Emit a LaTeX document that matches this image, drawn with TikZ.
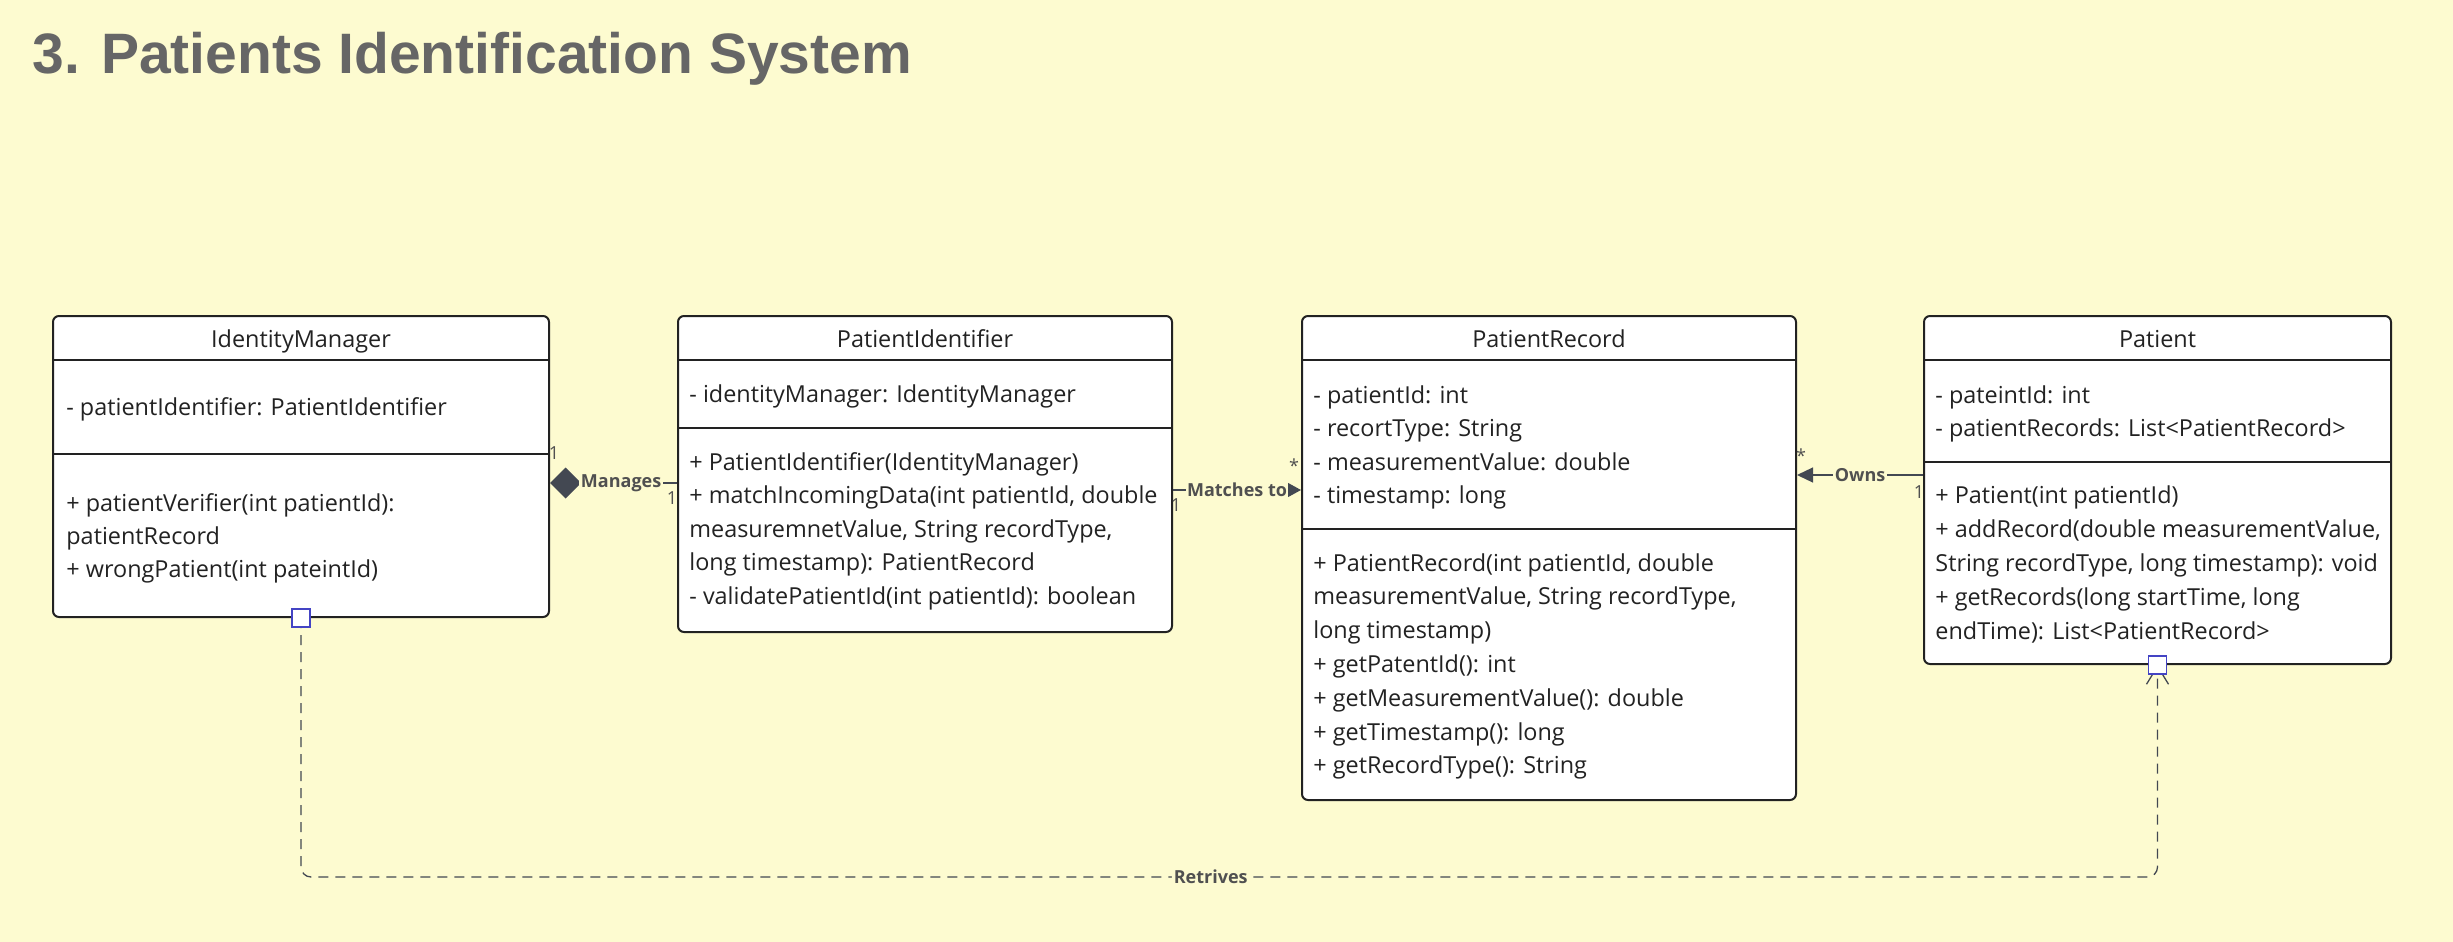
\documentclass[tikz,border=0pt]{standalone}
\usepackage{fontspec}
\setmainfont{Open Sans}
\newfontfamily\titlefont{Liberation Sans}
\usetikzlibrary{arrows.meta,calc}
\definecolor{bgyellow}{HTML}{FDFBD0}
\definecolor{linegray}{HTML}{434852}
\definecolor{labelgray}{HTML}{505050}
\definecolor{titlegray}{HTML}{666666}
\definecolor{handleblue}{HTML}{4444C4}
\definecolor{inkgray}{HTML}{222222}

\tikzset{
  classbox/.style={draw=inkgray, fill=white, line width=1pt, rounded corners=3pt, anchor=north west, inner sep=0pt},
  divider/.style={draw=inkgray, line width=1pt},
  header/.style={anchor=base, inner sep=0pt, font=\fontsize{11.7}{14}\selectfont, text=inkgray},
  member/.style={anchor=base west, inner sep=0pt, font=\fontsize{11.7}{14}\selectfont, text=inkgray},
  assoc/.style={draw=linegray, line width=0.65pt},
  dep/.style={draw=linegray, line width=0.65pt, dash pattern=on 5pt off 3.5pt, rounded corners=5pt},
  lbl/.style={fill=bgyellow, inner sep=1pt, font=\bfseries\fontsize{9}{10}\selectfont, text=labelgray},
  mult/.style={inner sep=0pt, font=\fontsize{9}{10}\selectfont, text=labelgray},
  handle/.style={draw=handleblue, fill=white, line width=0.8pt, minimum size=9pt, inner sep=0pt},
}

\begin{document}
\begin{tikzpicture}[x=0.5pt, y=-0.5pt]
    \fill[bgyellow] (0,0) rectangle (2453,942);
    \useasboundingbox (0,0) rectangle (2453,942);

    \node[anchor=base west, inner sep=0pt, text=titlegray, font=\titlefont\bfseries\fontsize{28.5}{30}\selectfont] (title) at (32,73) {3. Patients Identification System};

    % IdentityManager
    \node[classbox, minimum width=248pt, minimum height=150.5pt] (idm) at (52,315) {};
    \draw[divider] (idm.west |- 0,360) -- (idm.east |- 0,360);
    \draw[divider] (idm.west |- 0,454) -- (idm.east |- 0,454);
    \node[header] (idm-name) at (idm.north |- 0,347) {IdentityManager};
    \node[member] (idm-a1) at (66,415) {- patientIdentifier: PatientIdentifier};
    \foreach \t [count=\i] in {{+ patientVerifier(int patientId):}, patientRecord, {+ wrongPatient(int pateintId)}}
        \node[member] (idm-m\i) at (66,{511+33.4*(\i-1)}) {\t};

    % PatientIdentifier
    \node[classbox, minimum width=247pt, minimum height=158pt] (pid) at (677,315) {};
    \draw[divider] (pid.west |- 0,360) -- (pid.east |- 0,360);
    \draw[divider] (pid.west |- 0,428) -- (pid.east |- 0,428);
    \node[header] (pid-name) at (pid.north |- 0,347) {PatientIdentifier};
    \node[member] (pid-a1) at (689,402) {- identityManager: IdentityManager};
    \foreach \t [count=\i] in {{+ PatientIdentifier(IdentityManager)}, {+ matchIncomingData(int patientId, double}, {measuremnetValue, String recordType,}, {long timestamp): PatientRecord}, {- validatePatientId(int patientId): boolean}}
        \node[member] (pid-m\i) at (689,{470+33.5*(\i-1)}) {\t};

    % PatientRecord
    \node[classbox, minimum width=247pt, minimum height=242pt] (prec) at (1301,315) {};
    \draw[divider] (prec.west |- 0,360) -- (prec.east |- 0,360);
    \draw[divider] (prec.west |- 0,529) -- (prec.east |- 0,529);
    \node[header] (prec-name) at (prec.north |- 0,347) {PatientRecord};
    \foreach \t [count=\i] in {{- patientId: int}, {- recortType: String}, {- measurementValue: double}, {- timestamp: long}}
        \node[member] (prec-a\i) at (1313,{403+33.6*(\i-1)}) {\t};
    \foreach \t [count=\i] in {{+ PatientRecord(int patientId, double}, {measurementValue, String recordType,}, {long timestamp)}, {+ getPatentId(): int}, {+ getMeasurementValue(): double}, {+ getTimestamp(): long}, {+ getRecordType(): String}}
        \node[member] (prec-m\i) at (1313,{571+33.8*(\i-1)}) {\t};

    % Patient
    \node[classbox, minimum width=233.5pt, minimum height=174pt] (pat) at (1923,315) {};
    \draw[divider] (pat.west |- 0,360) -- (pat.east |- 0,360);
    \draw[divider] (pat.west |- 0,462) -- (pat.east |- 0,462);
    \node[header] (pat-name) at (pat.north |- 0,347) {Patient};
    \foreach \t [count=\i] in {{- pateintId: int}, {- patientRecords: List<PatientRecord>}}
        \node[member] (pat-a\i) at (1935,{403+33.5*(\i-1)}) {\t};
    \foreach \t [count=\i] in {{+ Patient(int patientId)}, {+ addRecord(double measurementValue,}, {String recordType, long timestamp): void}, {+ getRecords(long startTime, long}, {endTime): List<PatientRecord>}}
        \node[member] (pat-m\i) at (1935,{503+34*(\i-1)}) {\t};

    % connectors
    \draw[assoc, {Diamond[length=15.5pt, width=15.5pt, fill=linegray]}-] (idm.east |- 0,483) -- node[lbl, pos=0.56] (lbl-manages) {Manages} (pid.west |- 0,483);
    \node[mult] (m-idm) at (554,453) {1};
    \node[mult] (m-pid) at (672,498) {1};

    \draw[assoc, -{Triangle[length=7pt, width=7.5pt]}] (pid.east |- 0,490) -- node[lbl, inner sep=0.5pt] (lbl-matches) {Matches to} (prec.west |- 0,490);
    \node[mult] (m-pid2) at (1176,505) {1};
    \node[mult] (m-prec) at (1294,466) {*};

    \draw[assoc, -{Triangle[length=8pt, width=7.5pt]}] (pat.west |- 0,475) -- node[lbl] (lbl-owns) {Owns} (prec.east |- 0,475);
    \node[mult] (m-prec2) at (1801,456) {*};
    \node[mult] (m-pat) at (1919,492) {1};

    \draw[dep, -{Straight Barb[length=9pt, width=11pt]}] (idm.south) -- (idm.south |- 0,877) -- node[lbl, pos=0.49] (lbl-retrives) {Retrives} (pat.south |- 0,877) -- (pat.south);
    \node[handle] (idm-handle) at (idm.south) {};
    \node[handle] (pat-handle) at (pat.south) {};
\end{tikzpicture}
\end{document}
